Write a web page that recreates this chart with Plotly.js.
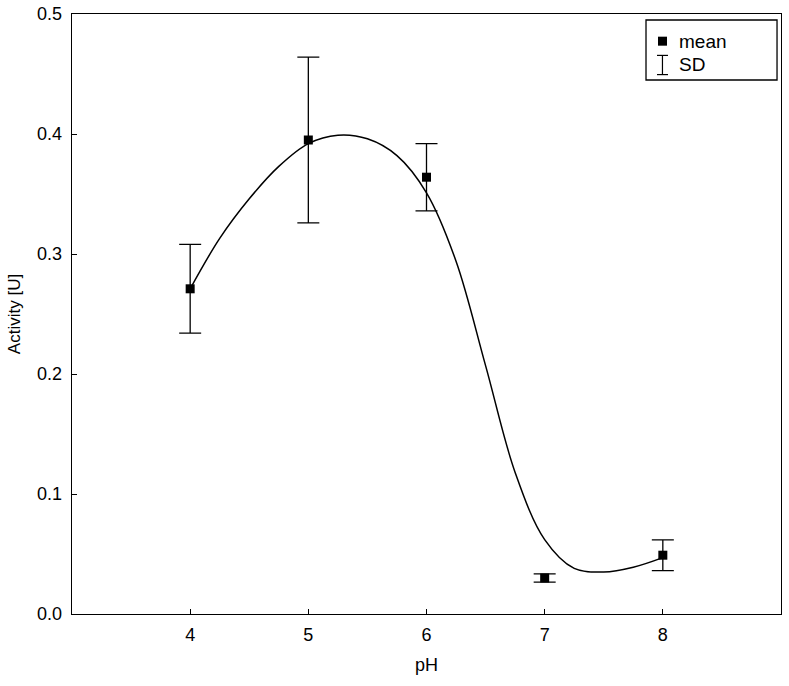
<!DOCTYPE html>
<html>
<head>
<meta charset="utf-8">
<script src="https://cdn.plot.ly/plotly-3.0.1.min.js"></script>
<style>html,body{margin:0;padding:0;background:#fff;}#chart{width:789px;height:686px;}</style>
</head>
<body>
<div id="chart"></div>
<script>
// Measured means and SD
const pH = [4, 5, 6, 7, 8];
const meanActivity = [0.271, 0.395, 0.364, 0.030, 0.049];
const sdActivity = [0.037, 0.069, 0.028, 0.0035, 0.0128];

// Fitted smooth curve
const curvePH = [4.0, 4.25, 4.5, 4.75, 5.0, 5.25, 5.5, 5.75, 6.0, 6.25, 6.5, 6.75, 7.0, 7.25, 7.5, 7.75, 8.0];
const curveActivity = [0.271, 0.313, 0.346, 0.373, 0.392, 0.399, 0.396, 0.382, 0.351, 0.294, 0.207, 0.118, 0.062, 0.038, 0.035, 0.039, 0.047];

const xTicks = [4, 5, 6, 7, 8];
const yTicks = [0.0, 0.1, 0.2, 0.3, 0.4, 0.5];
const yTickText = ['0.0', '0.1', '0.2', '0.3', '0.4', '0.5'];

const font = 'Arial, "Liberation Sans", sans-serif';

const traces = [
  {
    x: curvePH, y: curveActivity, type: 'scatter', mode: 'lines',
    line: {color: '#000', width: 1.5, shape: 'spline', smoothing: 1},
    showlegend: false, hoverinfo: 'skip'
  },
  {
    x: pH, y: meanActivity, type: 'scatter', mode: 'markers',
    marker: {symbol: 'square', size: 9, color: '#000'},
    error_y: {type: 'data', array: sdActivity, visible: true, color: '#000', thickness: 1.3, width: 11},
    showlegend: false
  }
];

const layout = {
  width: 789, height: 686,
  margin: {l: 72, r: 8, t: 14, b: 72},
  paper_bgcolor: '#fff', plot_bgcolor: '#fff',
  showlegend: false,
  font: {family: font, color: '#000', size: 18},
  xaxis: {
    range: [3, 9], tickvals: xTicks, ticks: 'inside', ticklen: 5, tickwidth: 1, tickcolor: '#000',
    showline: true, linecolor: '#000', linewidth: 1.3, mirror: true, showgrid: false, zeroline: false,
    tickfont: {family: font, size: 18, color: '#000'}, ticklabelstandoff: 4,
    title: {text: 'pH', font: {family: font, size: 18, color: '#000'}, standoff: 14}
  },
  yaxis: {
    range: [0, 0.5], tickvals: yTicks, ticktext: yTickText, ticks: 'inside', ticklen: 5, tickwidth: 1, tickcolor: '#000',
    showline: true, linecolor: '#000', linewidth: 1.3, mirror: true, showgrid: false, zeroline: false,
    tickfont: {family: font, size: 18, color: '#000'}, ticklabelstandoff: 5,
    title: {text: 'Activity [U]', font: {family: '"Liberation Sans Narrow", Arial, sans-serif', size: 17, color: '#000'}, standoff: 12}
  },
  shapes: [
    {type: 'rect', xref: 'paper', yref: 'paper', x0: 0.8096, x1: 0.9944, y0: 0.89, y1: 0.99, line: {color: '#000', width: 1.3}, fillcolor: '#fff'},
    // mean square
    {type: 'rect', xref: 'paper', yref: 'paper', x0: 0.8265, x1: 0.8392, y0: 0.9472, y1: 0.9622, line: {width: 0}, fillcolor: '#000'},
    // SD symbol
    {type: 'line', xref: 'paper', yref: 'paper', x0: 0.8328, x1: 0.8328, y0: 0.899, y1: 0.931, line: {color: '#000', width: 1.2}},
    {type: 'line', xref: 'paper', yref: 'paper', x0: 0.8251, x1: 0.8406, y0: 0.931, y1: 0.931, line: {color: '#000', width: 1.2}},
    {type: 'line', xref: 'paper', yref: 'paper', x0: 0.8251, x1: 0.8406, y0: 0.899, y1: 0.899, line: {color: '#000', width: 1.2}}
  ],
  annotations: [
    {xref: 'paper', yref: 'paper', x: 0.8533, y: 0.955, text: 'mean', showarrow: false, xanchor: 'left', yanchor: 'middle', font: {family: font, size: 19, color: '#000'}},
    {xref: 'paper', yref: 'paper', x: 0.8533, y: 0.9155, text: 'SD', showarrow: false, xanchor: 'left', yanchor: 'middle', font: {family: font, size: 19, color: '#000'}}
  ]
};

Plotly.newPlot('chart', traces, layout, {displayModeBar: false, staticPlot: true});
</script>
</body>
</html>
